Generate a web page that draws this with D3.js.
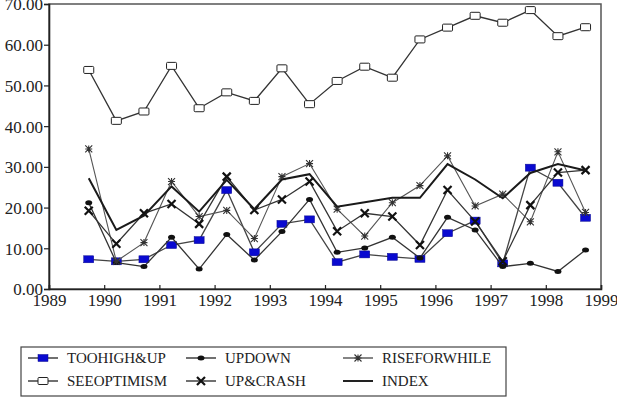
<!DOCTYPE html>
<html><head><meta charset="utf-8">
<script src="https://cdn.jsdelivr.net/npm/d3@7"></script>
<style>body{margin:0;background:#fff}svg{display:block}
svg text{font-family:"Liberation Serif","DejaVu Serif","Times New Roman",serif;}</style>
</head><body>
<svg id="c" width="617" height="403"></svg>
<script>
const times = [1989.72,1990.22,1990.72,1991.22,1991.72,1992.22,1992.72,1993.22,1993.72,1994.22,1994.72,1995.22,1995.72,1996.22,1996.72,1997.22,1997.72,1998.22,1998.72];
const tooHighUp   = [7.3,6.8,7.3,10.8,12.0,24.3,9.0,16.0,17.1,6.6,8.5,7.9,7.4,13.7,16.8,6.3,29.8,26.1,17.5];
const upDown      = [21.2,6.5,5.5,12.7,4.9,13.4,7.1,14.1,22.0,9.0,10.1,12.7,7.6,17.6,14.5,5.5,6.3,4.3,9.6];
const riseForWhile= [34.4,6.8,11.4,26.4,17.8,19.3,12.4,27.6,30.8,19.6,13.0,21.2,25.4,32.7,20.4,23.3,16.5,33.7,18.8];
const seeOptimism = [53.8,41.3,43.6,54.8,44.4,48.3,46.2,54.2,45.4,51.1,54.6,51.9,61.3,64.2,67.1,65.4,68.5,62.1,64.3];
const upCrash     = [19.2,11.1,18.6,20.9,16.0,27.6,19.4,22.0,26.4,14.2,18.6,17.8,10.8,24.3,16.6,6.8,20.6,28.6,29.2];
const indexVals   = [27.2,14.5,18.0,25.2,19.0,26.8,19.6,26.9,28.2,20.2,21.3,22.4,22.4,30.7,26.9,22.3,28.5,30.7,29.1];
const xTicks = [1989,1990,1991,1992,1993,1994,1995,1996,1997,1998,1999];
const yTicks = [0,10,20,30,40,50,60,70];

const svg = d3.select("#c");
const x = d3.scaleLinear().domain([1989,1999]).range([49,601]);
const y = d3.scaleLinear().domain([0,70]).range([289,4]);

svg.append("rect").attr("x",49).attr("y",4).attr("width",552).attr("height",285)
  .attr("fill","none").attr("stroke","#555").attr("stroke-width",1.5);

const xa = svg.append("g").attr("transform","translate(0,289)")
  .call(d3.axisBottom(x).tickValues(xTicks).tickFormat(d3.format("d")).tickSize(-4).tickPadding(5));
const ya = svg.append("g").attr("transform","translate(49,0)")
  .call(d3.axisLeft(y).tickValues(yTicks).tickFormat(d3.format(".2f")).tickSize(5).tickPadding(1));
[xa,ya].forEach(a=>{
  a.attr("font-family",null).attr("font-size",null);
  a.selectAll("path").attr("stroke","#222").attr("stroke-width",1.6);
  a.selectAll("line").attr("stroke","#222").attr("stroke-width",1.2);
  a.selectAll("text").attr("font-size",17).attr("fill","#222");
});
ya.selectAll("text").attr("dy","0.35em");

const line = d3.line().x((d,i)=>x(times[i])).y(d=>y(d));

function markerDraw(g, type, cx, cy){
  if(type==="blue"){
    g.append("rect").attr("x",cx-5).attr("y",cy-3.5).attr("width",10).attr("height",7).attr("fill","#0a0ad0").attr("stroke","#0a0a90").attr("stroke-width",0.5);
  } else if(type==="dot"){
    g.append("ellipse").attr("cx",cx).attr("cy",cy).attr("rx",3.5).attr("ry",2.5).attr("fill","#111");
  } else if(type==="star"){
    const s=3.5;
    g.append("path").attr("d",`M${cx-s},${cy-s}L${cx+s},${cy+s}M${cx-s},${cy+s}L${cx+s},${cy-s}M${cx},${cy-s}L${cx},${cy+s}M${cx-s},${cy}L${cx+s},${cy}`)
      .attr("stroke","#333").attr("stroke-width",1.1).attr("fill","none");
  } else if(type==="open"){
    g.append("rect").attr("x",cx-5).attr("y",cy-3.5).attr("width",10).attr("height",7).attr("rx",1).attr("fill","#fff").attr("stroke","#222").attr("stroke-width",1);
  } else if(type==="x"){
    const s=4;
    g.append("path").attr("d",`M${cx-s},${cy-s}L${cx+s},${cy+s}M${cx-s},${cy+s}L${cx+s},${cy-s}`)
      .attr("stroke","#111").attr("stroke-width",2.2).attr("fill","none");
  }
}

const series = [
  {name:"SEEOPTIMISM", vals:seeOptimism, color:"#333", w:1.3, m:"open"},
  {name:"TOOHIGH&UP", vals:tooHighUp, color:"#444", w:1.3, m:"blue"},
  {name:"UPDOWN", vals:upDown, color:"#333", w:1.3, m:"dot"},
  {name:"RISEFORWHILE", vals:riseForWhile, color:"#555", w:1.1, m:"star"},
  {name:"UP&CRASH", vals:upCrash, color:"#333", w:1.3, m:"x"},
  {name:"INDEX", vals:indexVals, color:"#1a1a1a", w:2, m:null}
];
series.forEach(s=>{
  const g = svg.append("g");
  g.append("path").datum(s.vals).attr("d",line).attr("fill","none").attr("stroke",s.color).attr("stroke-width",s.w);
  if(s.m) s.vals.forEach((v,i)=>markerDraw(g,s.m,x(times[i]),y(v)));
});

svg.append("rect").attr("x",21).attr("y",347).attr("width",485).attr("height",49)
  .attr("fill","#fff").attr("stroke","#444").attr("stroke-width",1.2);
const legendItems = [
  {name:"TOOHIGH&UP", m:"blue", col:0,row:0, w:1.3},
  {name:"UPDOWN", m:"dot", col:1,row:0, w:1.3},
  {name:"RISEFORWHILE", m:"star", col:2,row:0, w:1.1},
  {name:"SEEOPTIMISM", m:"open", col:0,row:1, w:1.3},
  {name:"UP&CRASH", m:"x", col:1,row:1, w:1.3},
  {name:"INDEX", m:null, col:2,row:1, w:2}
];
const colX = [28,186,343], rowY=[358,381];
legendItems.forEach(it=>{
  const g = svg.append("g");
  const x0 = colX[it.col], yy = rowY[it.row];
  g.append("line").attr("x1",x0).attr("x2",x0+30).attr("y1",yy).attr("y2",yy).attr("stroke","#222").attr("stroke-width",it.w);
  if(it.m) markerDraw(g,it.m,x0+15,yy);
  g.append("text").attr("x",x0+39).attr("y",yy).attr("dy","0.35em").attr("font-size",15).attr("fill","#222").text(it.name);
});
</script>
</body></html>
